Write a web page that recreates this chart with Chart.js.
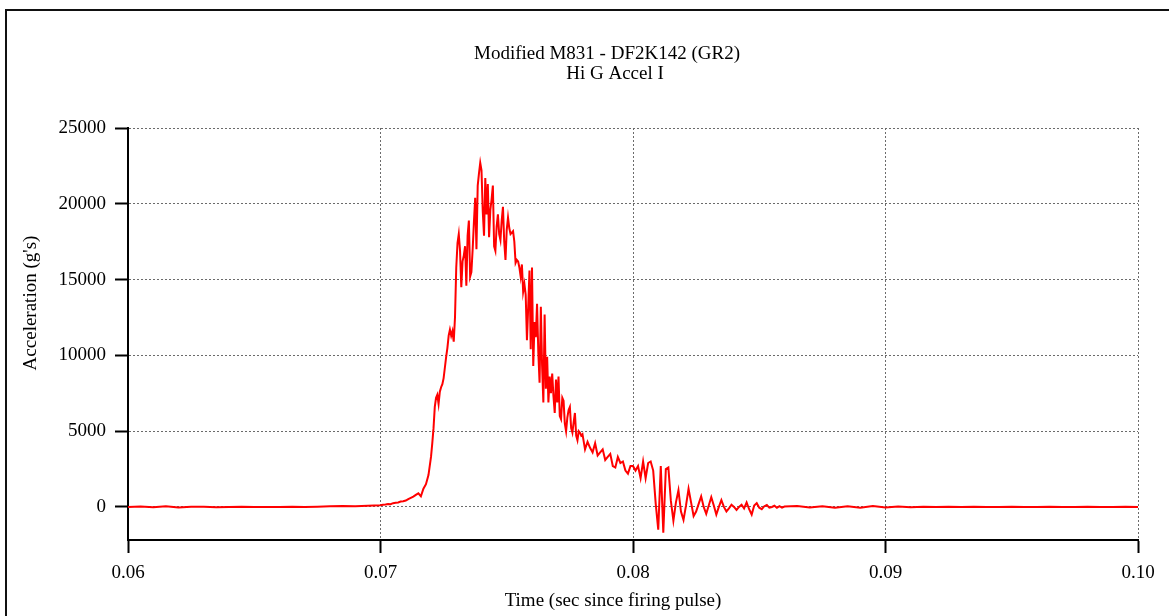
<!DOCTYPE html>
<html>
<head>
<meta charset="utf-8">
<title>Hi G Accel I</title>
<script src="https://cdn.jsdelivr.net/npm/chart.js@4.4.1/dist/chart.umd.min.js"></script>
<style>
  html, body { margin: 0; padding: 0; background: #fff; overflow: hidden; }
  #wrap { position: relative; width: 1169px; height: 616px; }
</style>
</head>
<body>
<div id="wrap"><canvas id="accelChart" width="1169" height="616"></canvas></div>
<script>
// ============== HI G ACCEL I - time history ==============

const titleLines = ["Modified M831 - DF2K142 (GR2)", "Hi G Accel I"];
const xTitle = "Time (sec since firing pulse)";
const yTitle = "Acceleration (g's)";

const timeTicks  = [0.06, 0.07, 0.08, 0.09, 0.10];
const accelTicks = [0, 5000, 10000, 15000, 20000, 25000];

// sample clock for each stretch of the record: [start (s), step (s)]
const baselineClock = [0.0600, 0.0005];
const riseClock     = [0.0701, 0.0001];
const peakClock     = [0.07205, 0.00005];
const decayClock    = [0.0781, 0.0001];
const tailClock     = [0.0865, 0.0005];

// acceleration in g's
const baselineAccel = [
  0, 30, -20, 40, -30, 20, 10, -20, 0, 10, 0,
  0, 0, 10, 0, 20, 40, 60, 50, 80, 110
];

const riseAccel = [
  140, 160, 200, 180, 250, 280, 300, 360, 380, 420,
  520, 600, 680, 800, 900, 700, 1200, 1500, 2100, 3300
];

const peakAccel = [
  4200, 5200, 6600, 7200, 7400, 6800, 7600, 7900, 8100, 8500,
  9200, 9900, 10500, 11300, 11700, 11300, 11600, 10900, 12500, 15800,
  17400, 18000, 16900, 14500, 16200, 16600, 17200, 14600, 17900, 18900,
  15200, 15500, 17000, 18800, 20400, 17000, 21200, 22000, 22700, 22200,
  19500, 17900, 21700, 19300, 21300, 17800, 19600, 20300, 21200, 17200,
  16900, 18500, 19300, 18000, 17600, 18900, 19800, 17500, 16300, 18300,
  19100, 18400, 18000, 18100, 18200, 17500, 16100, 16300, 16200, 15800,
  15200, 16000, 14200, 14700, 14000, 11000, 13200, 15600, 10400, 15800,
  9300, 12200, 11200, 13400, 10200, 8200, 13200, 9300, 6900, 12700,
  7800, 9900, 6900, 8600, 7500, 8800, 7300, 6200, 8400, 6900,
  8600, 6000, 5800, 7200, 7000, 5500, 5000, 5900, 6400, 6600,
  5200, 4900, 5600, 6200, 4700, 4400, 5000, 4900, 4700, 4800
];

const decayAccel = [
  3800, 4300, 3900, 3600, 4200, 3400, 3600, 3800, 3100, 3300,
  3500, 2700, 2600, 3300, 2900, 3000, 2400, 2200, 2700, 2700,
  2400, 2700, 1900, 3000, 1900, 2900, 3000, 2400, 200, -1500,
  2700, -1700, 2500, 2600, 400, -900, 300, 1100, -300, -850,
  100, 1200, 300, -600, -300, 200, 700, 0, -450, 100,
  650, 100, -500, 0, 450, 0, -300, -100, 150, 0,
  -200, 0, 150, -100, 300, -150, -500, 100, 250, -50,
  -150, 50, 130, -50, 0, 80, -60, 50, -40, 30
];

const tailAccel = [
  60, -40, 50, -60, 40, -50, 60, -40, 30, -20,
  20, 0, 10, 0, 10, -10, 0, 10, 0, 0,
  10, -10, 0, 10, 0, 0, 10, 0
];

const FONT_FAMILY = '"Liberation Serif", "Times New Roman", serif';

function toPoints(clock, values) {
  const [t0, dt] = clock;
  return values.map((v, i) => ({ x: +(t0 + i * dt).toFixed(6), y: v }));
}

const accelPoints = [
  ...toPoints(baselineClock, baselineAccel),
  ...toPoints(riseClock, riseAccel),
  ...toPoints(peakClock, peakAccel),
  ...toPoints(decayClock, decayAccel),
  ...toPoints(tailClock, tailAccel)
];

// frame, titles and axis captions
const plotLabels = {
  id: "plotLabels",
  afterDraw(chart) {
    const ctx = chart.ctx;
    ctx.save();
    ctx.strokeStyle = "#111";
    ctx.lineWidth = 2;
    ctx.beginPath();
    ctx.moveTo(6, 616);
    ctx.lineTo(6, 10);
    ctx.lineTo(1169, 10);
    ctx.stroke();

    ctx.fillStyle = "#000";
    ctx.font = "19px " + FONT_FAMILY;
    ctx.textAlign = "center";
    ctx.textBaseline = "middle";
    ctx.fillText(titleLines[0], 607, 54);
    ctx.fillText(titleLines[1], 615, 74);
    ctx.fillText(xTitle, 613, 601);

    ctx.translate(31, 303);
    ctx.rotate(-Math.PI / 2);
    ctx.fillText(yTitle, 0, 0);
    ctx.restore();
  }
};

function axisStyle() {
  return {
    grid: {
      color: "#6b6b6b",
      lineWidth: 1,
      tickLength: 13,
      tickColor: "#000",
      tickWidth: 2
    },
    border: { color: "#000", width: 2, dash: [2, 2] }
  };
}

new Chart(document.getElementById("accelChart"), {
  type: "line",
  data: {
    datasets: [{
      label: "Hi G Accel I",
      data: accelPoints,
      borderColor: "#ff0000",
      borderWidth: 2,
      pointRadius: 0,
      tension: 0,
      fill: false
    }]
  },
  options: {
    responsive: false,
    animation: false,
    devicePixelRatio: 1,
    layout: { padding: { left: 0, right: 31, top: 128, bottom: 0 } },
    plugins: {
      legend: { display: false },
      tooltip: { enabled: false },
      title: { display: false }
    },
    scales: {
      x: {
        type: "linear",
        min: 0.06,
        max: 0.10,
        afterBuildTicks: s => { s.ticks = timeTicks.map(v => ({ value: v })); },
        afterFit: s => { s.height = 76; },
        ticks: {
          callback: v => v.toFixed(2),
          color: "#000",
          font: { family: FONT_FAMILY, size: 19 },
          padding: 9,
          maxRotation: 0,
          autoSkip: false
        },
        ...axisStyle()
      },
      y: {
        type: "linear",
        min: -2180,
        max: 25000,
        afterBuildTicks: s => { s.ticks = accelTicks.map(v => ({ value: v })); },
        afterFit: s => { s.width = 128; },
        ticks: {
          callback: v => v.toFixed(0),
          color: "#000",
          font: { family: FONT_FAMILY, size: 19 },
          padding: 9
        },
        ...axisStyle()
      }
    }
  },
  plugins: [plotLabels]
});
</script>
</body>
</html>
